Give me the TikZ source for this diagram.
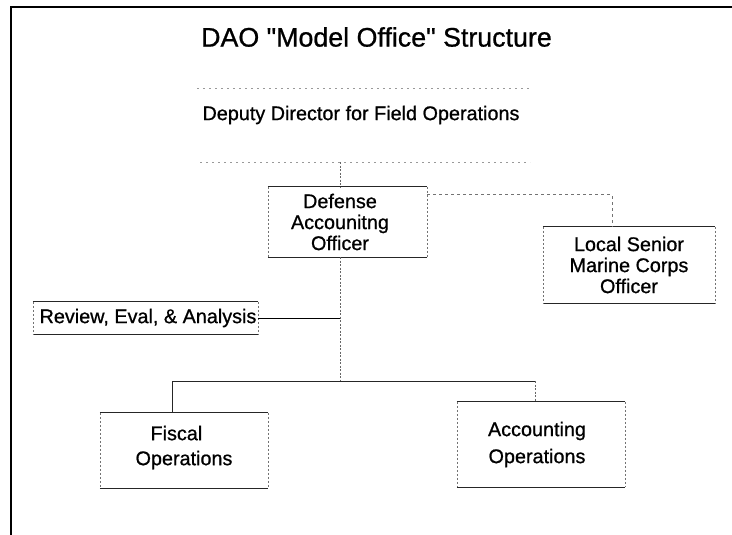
\documentclass[tikz,border=0pt]{standalone}
\usepackage{fontspec}
\setmainfont{Liberation Sans}[Ligatures=TeXOff, FakeBold=0.8]
\usetikzlibrary{calc}
\tikzset{
  orgbox/.style={draw=none, inner sep=0pt, align=center, font=\fontsize{19.8}{21}\selectfont},
  hedge/.style={draw=black!85, line width=0.9pt},
  vedge/.style={draw=black!55, line width=0.6pt, dash pattern=on 2pt off 2pt},
  trunk/.style={draw=black!60, line width=0.7pt, dash pattern=on 2pt off 1.5pt},
  barline/.style={draw=black!85, line width=0.9pt},
  solidline/.style={draw=black, line width=1pt},
  dashline/.style={draw=black!55, line width=0.7pt, dash pattern=on 3pt off 3pt},
  rule/.style={draw=black!40, line width=0.6pt, dash pattern=on 2pt off 4pt},
  frame/.style={draw=black, line width=1.8pt}
}
\begin{document}
\begin{tikzpicture}[x=1pt,y=-1pt]
\useasboundingbox (0,0) rectangle (732,535);
\fill[white] (0,0) rectangle (732,535);
\draw[frame] (732,7) -- (11,7) -- (11,535);

\node[font=\fontsize{26.8}{28}\selectfont] (title) at (376.5,37) {DAO "Model Office" Structure};

\draw[rule] (197,88) -- (530,88);
\node[font=\fontsize{19.8}{21}\selectfont] (dep) at (361,115) {Deputy Director for Field Operations};
\draw[rule] (200,162) -- (530,162);
\coordinate (dtop) at (340,162);

\node[orgbox, minimum width=159pt, minimum height=70pt] (dao) at (347.5,222)
  {\hspace*{-15pt}Defense\\\hspace*{-15pt}Accounitng\\\hspace*{-15pt}Officer};
\node[orgbox, minimum width=172pt, minimum height=76pt] (lso) at (629,265)
  {Local Senior\\Marine Corps\\Officer};
\node[orgbox, minimum width=225pt, minimum height=32pt] (rea) at (145.5,318)
  {\hspace*{5pt}Review, Eval, \& Analysis};
\node[orgbox, minimum width=168pt, minimum height=75pt, align=left,
      font=\fontsize{19.8}{25}\selectfont] (fis) at (184,450.5)
  {\hspace*{15pt}Fiscal\\Operations\\[-15pt]\mbox{}};
\node[orgbox, minimum width=168pt, minimum height=85pt,
      font=\fontsize{19.8}{27}\selectfont] (acc) at (541,444.5)
  {\hspace*{-8pt}Accounting\\\hspace*{-8pt}Operations};

\foreach \b in {dao,lso,rea,fis,acc}{
  \draw[hedge] (\b.north west) -- (\b.north east) (\b.south west) -- (\b.south east);
  \draw[vedge] (\b.north west) -- (\b.south west) (\b.north east) -- (\b.south east);
}

\coordinate (bar) at (340,381);
\draw[trunk] (dtop) -- (dtop |- dao.north);
\draw[trunk] (dtop |- dao.south) -- (bar);
\draw[dashline] ($(dao.north east)+(0,8)$) -| ($(lso.north)+(-17,0)$);
\draw[solidline] (rea.east) -- (rea.east -| bar);
\draw[barline] (bar) -| ($(fis.north)+(-12,0)$);
\draw[barline] (bar) -- ($(bar -| acc.north)+(-6,0)$);
\draw[trunk] ($(bar -| acc.north)+(-6,0)$) -- ($(acc.north)+(-6,0)$);
\end{tikzpicture}
\end{document}
